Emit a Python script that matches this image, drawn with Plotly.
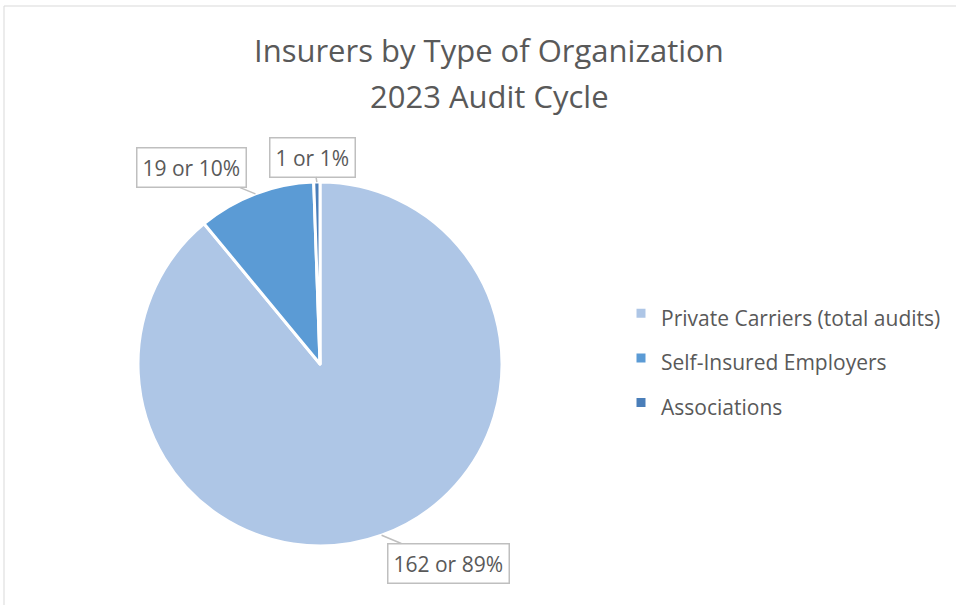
import math
import plotly.graph_objects as go

# ---- data ----
categories = ["Private Carriers (total audits)", "Self-Insured Employers", "Associations"]
values = [162, 19, 1]
colors = ["#AEC6E6", "#5B9BD5", "#4A7EB9"]
title_lines = ["Insurers by Type of Organization", "2023 Audit Cycle"]

W, H = 956, 605
FONT = "Open Sans"
TXT = "#595959"

# pie placement (pixels)
cx, cy, r = 320, 364, 182
dom_x = [(cx - r) / W, (cx + r) / W]
dom_y = [(H - cy - r) / H, (H - cy + r) / H]

total = sum(values)
labels_html = [f"<span style='font-size:21px'>{c}</span>" for c in categories]

fig = go.Figure()
fig.add_trace(go.Pie(
    labels=labels_html,
    values=values,
    sort=False,
    direction="clockwise",
    rotation=0,
    marker=dict(colors=colors, line=dict(color="white", width=3)),
    textinfo="none",
    hoverinfo="label+value+percent",
    domain=dict(x=dom_x, y=dom_y),
))

# data labels with leader lines, anchored at slice mid-angle on the rim
label_offsets = [(67, 28), (-64, -26), (-4, -25)]
annotations = []
cum = 0
for v, (ox, oy) in zip(values, label_offsets):
    mid = (cum + v / 2) / total * 2 * math.pi
    cum += v
    px = cx + r * math.sin(mid)
    py = cy - r * math.cos(mid)
    pct = round(100 * v / total)
    annotations.append(dict(
        x=px / W, y=1 - py / H, xref="paper", yref="paper",
        text=f"{v} or {pct}%",
        showarrow=True, arrowhead=0, arrowwidth=1.5, arrowcolor="#BFBFBF",
        ax=ox, ay=oy, standoff=0,
        font=dict(family=FONT, size=21, color=TXT),
        bgcolor="white", bordercolor="#BFBFBF", borderwidth=1.5, borderpad=5,
    ))

# title lines
for t, yy in zip(title_lines, [50, 96]):
    annotations.append(dict(
        x=489 / W, y=1 - yy / H, xref="paper", yref="paper",
        text=t, showarrow=False, xanchor="center", yanchor="middle",
        font=dict(family=FONT, size=31, color=TXT),
    ))

fig.update_layout(
    width=W, height=H,
    margin=dict(l=0, r=0, t=0, b=0),
    paper_bgcolor="white", plot_bgcolor="white",
    showlegend=True,
    legend=dict(
        x=621 / W, y=1 - 286 / H, xanchor="left", yanchor="top",
        font=dict(family=FONT, size=32, color=TXT),
        bgcolor="rgba(0,0,0,0)",
    ),
    annotations=annotations,
    shapes=[
        dict(type="line", xref="paper", yref="paper", x0=4 / W, x1=1, y0=1 - 6 / H, y1=1 - 6 / H,
             line=dict(color="#D9D9D9", width=1)),
        dict(type="line", xref="paper", yref="paper", x0=4 / W, x1=4 / W, y0=0, y1=1 - 6 / H,
             line=dict(color="#D9D9D9", width=1)),
    ],
)

fig.write_html(
    "out.html",
    config={"displayModeBar": False},
    post_script="document.body.style.margin='0px';document.body.style.overflow='hidden';",
)
